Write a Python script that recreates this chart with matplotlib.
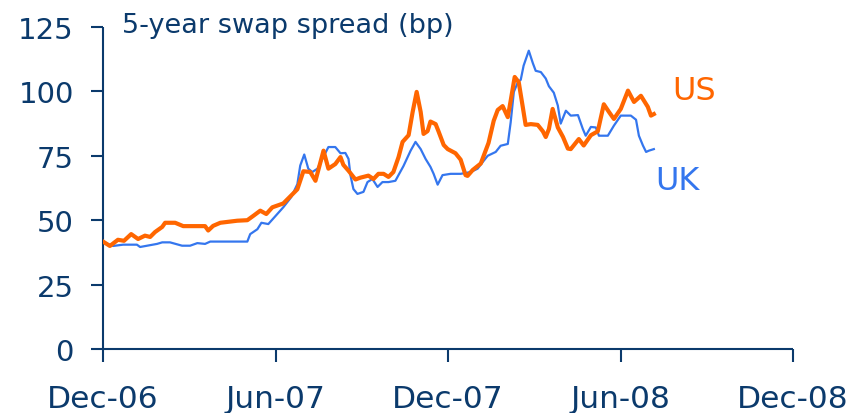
import matplotlib
matplotlib.use("Agg")
import matplotlib.pyplot as plt

# months after the Dec-06 tick, spread in bp
us_months = [0.0, 0.24, 0.52, 0.73, 0.98, 1.22, 1.46, 1.64, 1.81, 2.06, 2.16, 2.51, 2.79,
             3.55, 3.66, 3.83, 4.08, 4.67, 5.02, 5.23, 5.47, 5.68, 5.89, 6.27, 6.52, 6.76,
             6.97, 7.21, 7.39, 7.67, 7.84, 8.08, 8.26, 8.36, 8.54, 8.78, 8.95, 9.23, 9.41,
             9.58, 9.76, 9.93, 10.10, 10.28, 10.42, 10.63, 10.77, 10.91, 11.05, 11.15, 11.29,
             11.39, 11.57, 11.67, 11.85, 11.99, 12.26, 12.44, 12.61, 12.68, 12.86, 13.14,
             13.41, 13.59, 13.73, 13.90, 14.08, 14.18, 14.32, 14.46, 14.60, 14.70, 14.88,
             15.12, 15.30, 15.40, 15.51, 15.64, 15.82, 16.00, 16.17, 16.27, 16.55, 16.72,
             16.97, 17.21, 17.42, 17.60, 17.77, 18.01, 18.26, 18.47, 18.71, 18.95, 19.06, 19.16]
us_spread = [41.7, 40.0, 42.4, 42.0, 44.6, 42.7, 44.0, 43.5, 45.4, 47.4, 49.0, 49.0, 47.7,
             47.7, 46.0, 47.8, 49.0, 49.8, 50.0, 51.7, 53.7, 52.4, 55.0, 56.5, 59.3, 62.0,
             69.0, 68.7, 65.3, 77.0, 70.0, 71.8, 74.5, 71.5, 69.2, 65.8, 66.5, 67.3, 66.0,
             68.0, 68.0, 66.8, 68.7, 74.5, 80.4, 83.0, 92.0, 99.8, 92.0, 83.5, 84.6,
             88.3, 87.3, 84.5, 79.2, 77.6, 76.0, 73.5, 67.5, 67.2, 69.5, 72.0,
             80.0, 88.6, 92.8, 94.3, 90.0, 96.4, 105.6, 103.6, 94.0, 87.0, 87.3,
             87.0, 84.5, 82.3, 85.4, 93.2, 86.0, 82.3, 77.8, 77.6, 81.5, 79.0,
             83.0, 84.5, 95.0, 92.0, 89.3, 93.2, 100.3, 95.9, 98.3, 94.0, 90.6, 91.2]

uk_months = [0.0, 0.17, 0.35, 0.70, 1.18, 1.29, 1.88, 2.06, 2.33, 2.75, 3.03, 3.28, 3.55,
             3.73, 5.02, 5.12, 5.37, 5.51, 5.75, 5.99, 6.27, 6.55, 6.76, 6.86, 7.00, 7.14,
             7.28, 7.46, 7.63, 7.84, 8.08, 8.26, 8.43, 8.54, 8.61, 8.71, 8.85, 9.06, 9.20,
             9.37, 9.55, 9.72, 9.93, 10.17, 10.45, 10.70, 10.87, 11.05, 11.22, 11.39, 11.50,
             11.64, 11.81, 12.09, 12.44, 12.79, 13.03, 13.21, 13.38, 13.66, 13.83, 14.08,
             14.18, 14.29, 14.43, 14.53, 14.63, 14.81, 14.95, 15.05, 15.23, 15.40, 15.51,
             15.68, 15.82, 15.92, 16.10, 16.27, 16.52, 16.69, 16.79, 16.97, 17.14, 17.25,
             17.56, 17.77, 18.01, 18.36, 18.54, 18.64, 18.78, 18.89, 18.99, 19.16]
uk_spread = [41.7, 40.8, 40.0, 40.5, 40.5, 39.6, 40.8, 41.4, 41.4, 40.1, 40.1, 41.1, 40.8,
             41.7, 41.7, 44.6, 46.5, 49.0, 48.5, 51.5, 55.0, 59.0, 64.0, 71.2, 75.5, 70.0,
             68.7, 70.0, 73.8, 78.4, 78.4, 76.0, 76.1, 73.8, 67.3, 62.1, 60.2, 61.0, 64.8,
             66.0, 62.9, 64.8, 64.8, 65.3, 71.0, 77.0, 80.4, 77.6, 73.8, 70.7, 68.0,
             63.8, 67.5, 68.0, 68.0, 68.7, 70.0, 72.6, 75.0, 76.5, 78.9, 79.6,
             88.0, 99.8, 103.6, 104.5, 110.0, 115.8, 111.0, 108.0, 107.5, 105.0, 102.0,
             99.5, 94.5, 87.5, 92.5, 90.6, 90.8, 85.4, 82.8, 86.2, 86.0, 82.8,
             82.8, 86.7, 90.6, 90.6, 89.0, 82.8, 79.0, 76.5, 77.0, 77.6]

tick_months = [0, 6, 12, 18, 24]
tick_labels = ["Dec-06", "Jun-07", "Dec-07", "Jun-08", "Dec-08"]
y_ticks = [0, 25, 50, 75, 100, 125]

navy = "#0b3a6c"
orange = "#ff6600"
blue = "#3476ee"

fig = plt.figure(figsize=(8.52, 4.14), dpi=100)
ax = fig.add_axes([103 / 852, 1 - 350 / 414, 690 / 852, 322 / 414])

ax.plot(uk_months, uk_spread, color=blue, lw=1.6, zorder=2)
ax.plot(us_months, us_spread, color=orange, lw=3.0, zorder=3)

ax.set_xlim(0, 24)
ax.set_ylim(0, 125)
ax.set_xticks(tick_months)
ax.set_xticklabels(tick_labels)
ax.set_yticks(y_ticks)

for side in ["top", "right"]:
    ax.spines[side].set_visible(False)
for side in ["left", "bottom"]:
    ax.spines[side].set_color(navy)
    ax.spines[side].set_linewidth(1.5)
    ax.spines[side].set_capstyle("butt")

ax.tick_params(axis="both", direction="out", length=9, width=1.5, color=navy,
               labelcolor=navy, labelsize=21)
ax.tick_params(axis="y", pad=12)
ax.tick_params(axis="x", pad=16, labelsize=22.5)

fig.text(122 / 852, 1 - 33 / 414, "5-year swap spread (bp)", color=navy,
         fontsize=19.5, va="baseline", ha="left")
ax.text(672 / 852, 1 - 100 / 414, "US", transform=fig.transFigure, color=orange,
        fontsize=23, va="baseline", ha="left")
ax.text(655 / 852, 1 - 190 / 414, "UK", transform=fig.transFigure, color=blue,
        fontsize=23, va="baseline", ha="left")

fig.savefig("out.png", dpi=100)
